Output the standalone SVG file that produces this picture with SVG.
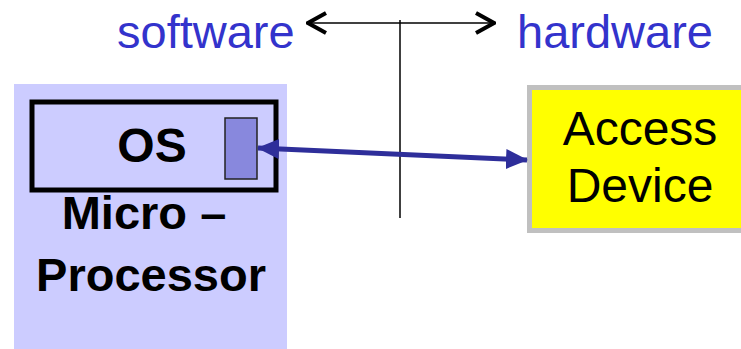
<svg xmlns="http://www.w3.org/2000/svg" width="741" height="349" viewBox="0 0 741 349">
  <defs>
    <style>
      .label { font-family: "Liberation Sans", Arial, sans-serif; }
      .side { fill: #3333CC; font-size: 47px; }
      .bold { font-weight: bold; fill: #000; }
      .plain { fill: #000; font-size: 48px; }
    </style>
    <marker id="chev" viewBox="0 0 22 24" refX="20" refY="12" markerWidth="22" markerHeight="24" markerUnits="userSpaceOnUse" orient="auto-start-reverse">
      <path d="M2,2 L20,12 L2,22" fill="none" stroke="#000" stroke-width="4"/>
    </marker>
    <marker id="tri" viewBox="0 0 22 22" refX="21" refY="11" markerWidth="22" markerHeight="22" markerUnits="userSpaceOnUse" orient="auto-start-reverse">
      <path d="M0,1 L22,11 L0,21 Z" fill="#2E2E9A"/>
    </marker>
  </defs>

  <rect width="741" height="349" fill="#fff"/>

  <!-- side labels -->
  <text class="label side" x="117" y="48">software</text>
  <text class="label side" x="517" y="48">hardware</text>

  <g id="microprocessor">
    <rect x="14" y="84" width="273" height="265" fill="#CCCCFF"/>
    <text class="label bold" x="144" y="229" font-size="47" text-anchor="middle">Micro –</text>
    <text class="label bold" x="151" y="291" font-size="47" text-anchor="middle">Processor</text>
  </g>

  <g id="os">
    <rect x="32" y="102" width="244" height="88" fill="#CCCCFF" stroke="#000" stroke-width="5"/>
    <text class="label bold" x="152" y="162" font-size="48" text-anchor="middle">OS</text>
  </g>

  <g id="port">
    <rect x="225" y="118" width="32" height="61" fill="#8888DD" stroke="#222" stroke-width="1.5"/>
  </g>

  <g id="access-device">
    <rect x="529.5" y="87.5" width="220" height="143" fill="#FFFF00" stroke="#C0C0C0" stroke-width="5"/>
    <text class="label plain" x="640" y="145" text-anchor="middle">Access</text>
    <text class="label plain" x="640" y="202" text-anchor="middle">Device</text>
  </g>

  <g id="connectors">
    <!-- software / hardware divider -->
    <line x1="400" y1="20" x2="400" y2="218" stroke="#000" stroke-width="1.5"/>
    <line x1="308" y1="23" x2="494" y2="23" stroke="#000" stroke-width="1.5" marker-start="url(#chev)" marker-end="url(#chev)"/>
    <!-- OS to device link -->
    <line x1="258" y1="148" x2="527" y2="160" stroke="#2E2E9A" stroke-width="5" marker-start="url(#tri)" marker-end="url(#tri)"/>
  </g>
</svg>
